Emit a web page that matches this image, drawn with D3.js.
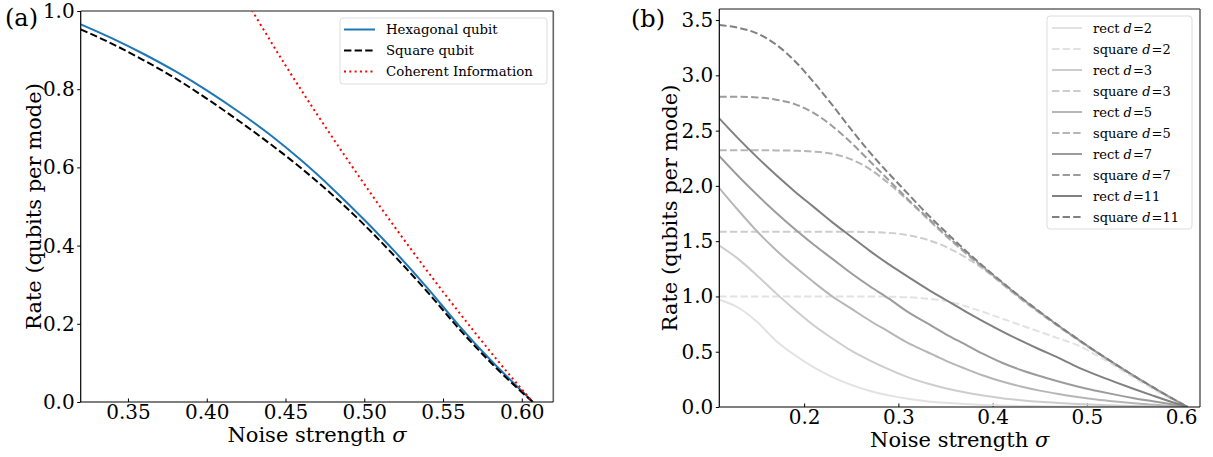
<!DOCTYPE html>
<html>
<head>
<meta charset="utf-8">
<script src="https://cdn.jsdelivr.net/npm/d3@7"></script>
<style>
  body { margin: 0; background: #fff; }
  svg { font-family: "DejaVu Serif", serif; }
</style>
</head>
<body>
<script>
// ---- panel (a) data ----
const sigmaA = [0.32, 0.34, 0.36, 0.38, 0.40, 0.42, 0.44, 0.46, 0.48, 0.50, 0.52, 0.54, 0.56, 0.58, 0.60, 0.607]
const hexRate = [0.966, 0.930, 0.890, 0.846, 0.797, 0.743, 0.684, 0.618, 0.545, 0.466, 0.382, 0.292, 0.196, 0.108, 0.028, 0.0]
const squareRate = [0.953, 0.916, 0.874, 0.828, 0.776, 0.720, 0.661, 0.598, 0.529, 0.453, 0.370, 0.282, 0.188, 0.102, 0.025, 0.0]
const sigmaCI = [0.42, 0.43, 0.45, 0.47, 0.49, 0.51, 0.53, 0.55, 0.57, 0.59, 0.607]
const ciRate = [1.060, 0.993, 0.861, 0.736, 0.616, 0.500, 0.389, 0.282, 0.179, 0.080, 0.0]
const xTicksA = [0.35, 0.40, 0.45, 0.50, 0.55, 0.60]
const yTicksA = [0.0, 0.2, 0.4, 0.6, 0.8, 1.0]

// ---- panel (b) data ----
const sigmaB = [0.11, 0.13, 0.15, 0.17, 0.19, 0.21, 0.23, 0.25, 0.27, 0.29, 0.31, 0.33, 0.35,
  0.37, 0.39, 0.41, 0.43, 0.45, 0.47, 0.49, 0.51, 0.53, 0.55, 0.57, 0.59, 0.607]
const rect2 = [0.97, 0.90, 0.77, 0.60, 0.47, 0.36, 0.27, 0.20, 0.145, 0.105, 0.075, 0.053, 0.038,
  0.027, 0.019, 0.014, 0.010, 0.007, 0.005, 0.004, 0.003, 0.002, 0.0015, 0.001, 0.0005, 0.0]
const square2 = [1.0, 1.0, 1.0, 1.0, 1.0, 1.0, 1.0, 1.0, 0.999, 0.998, 0.993, 0.98, 0.96,
  0.915, 0.86, 0.80, 0.74, 0.68, 0.62, 0.56, 0.47, 0.37, 0.265, 0.165, 0.07, 0.0]
const rect3 = [1.46, 1.34, 1.19, 1.03, 0.88, 0.74, 0.62, 0.51, 0.42, 0.34, 0.27, 0.215, 0.17,
  0.133, 0.103, 0.08, 0.062, 0.047, 0.036, 0.027, 0.02, 0.014, 0.009, 0.005, 0.002, 0.0]
const square3 = [1.585, 1.585, 1.585, 1.585, 1.585, 1.585, 1.585, 1.585, 1.583, 1.575, 1.555, 1.515, 1.45,
  1.36, 1.25, 1.12, 0.975, 0.85, 0.728, 0.61, 0.495, 0.386, 0.28, 0.178, 0.079, 0.0]
const rect5 = [1.98, 1.78, 1.59, 1.42, 1.27, 1.13, 1.00, 0.89, 0.78, 0.68, 0.58, 0.50, 0.42,
  0.35, 0.285, 0.23, 0.185, 0.148, 0.117, 0.09, 0.068, 0.05, 0.034, 0.021, 0.009, 0.0]
const square5 = [2.322, 2.322, 2.322, 2.321, 2.318, 2.31, 2.29, 2.24, 2.15, 2.02, 1.87, 1.71, 1.55,
  1.40, 1.255, 1.115, 0.98, 0.852, 0.729, 0.611, 0.496, 0.387, 0.281, 0.178, 0.08, 0.0]
const rect7 = [2.27, 2.09, 1.92, 1.76, 1.61, 1.47, 1.34, 1.21, 1.09, 0.98, 0.86, 0.76, 0.66,
  0.57, 0.48, 0.40, 0.335, 0.28, 0.23, 0.185, 0.147, 0.112, 0.08, 0.052, 0.024, 0.0]
const square7 = [2.807, 2.806, 2.80, 2.78, 2.74, 2.66, 2.54, 2.39, 2.22, 2.05, 1.88, 1.72, 1.56,
  1.41, 1.265, 1.125, 0.988, 0.858, 0.734, 0.615, 0.499, 0.388, 0.282, 0.179, 0.08, 0.0]
const rect11 = [2.61, 2.43, 2.26, 2.10, 1.95, 1.81, 1.67, 1.54, 1.41, 1.29, 1.18, 1.07, 0.97,
  0.87, 0.775, 0.685, 0.60, 0.52, 0.445, 0.36, 0.29, 0.225, 0.163, 0.103, 0.045, 0.0]
const square11 = [3.455, 3.43, 3.38, 3.28, 3.13, 2.94, 2.73, 2.51, 2.30, 2.11, 1.93, 1.75, 1.585,
  1.425, 1.274, 1.13, 0.992, 0.861, 0.736, 0.616, 0.5, 0.389, 0.282, 0.179, 0.08, 0.0]
const distances = [2, 3, 5, 7, 11]
const grays = ["#e2e2e2", "#cdcdcd", "#b6b6b6", "#9c9c9c", "#808080"]
const xTicksB = [0.2, 0.3, 0.4, 0.5, 0.6]
const yTicksB = [0.0, 0.5, 1.0, 1.5, 2.0, 2.5, 3.0, 3.5]

const width = 1213
const height = 457

const svg = d3.select("body")
  .append("svg")
  .attr("width", width)
  .attr("height", height)

// draws frame, ticks and labels for one panel, returns scales + group
const makePanel = (opt) => {
  const x = d3.scaleLinear().domain(opt.xDomain).range([opt.left, opt.right])
  const y = d3.scaleLinear().domain(opt.yDomain).range([opt.bottom, opt.top])

  const g = svg.append("g")

  g.append("clipPath")
    .attr("id", opt.id + "-clip")
    .append("rect")
    .attr("x", opt.left)
    .attr("y", opt.top)
    .attr("width", opt.right - opt.left)
    .attr("height", opt.bottom - opt.top)

  const xAxis = d3.axisBottom(x)
    .tickValues(opt.xTicks)
    .tickFormat(d3.format(opt.xFmt))
    .tickSizeInner(-3.5)
    .tickSizeOuter(0)
    .tickPadding(2.5)

  const yAxis = d3.axisLeft(y)
    .tickValues(opt.yTicks)
    .tickFormat(d3.format(".1f"))
    .tickSizeInner(3.5)
    .tickSizeOuter(0)
    .tickPadding(2.5)

  const gx = g.append("g")
    .attr("transform", `translate(0, ${opt.bottom})`)
    .call(xAxis)
  const gy = g.append("g")
    .attr("transform", `translate(${opt.left}, 0)`)
    .call(yAxis)

  ;[gx, gy].forEach(a => {
    a.select(".domain").remove()
    a.selectAll("text")
      .attr("fill", "#000")
      .style("font-size", "20px")
      .style("font-family", "DejaVu Serif")
    a.selectAll("line").attr("stroke", "#000").attr("stroke-width", 1)
  })

  const lines = g.append("g").attr("clip-path", `url(#${opt.id}-clip)`)

  // spines: top/right gray, left/bottom black
  g.append("line")
    .attr("x1", opt.left).attr("x2", opt.right)
    .attr("y1", opt.top).attr("y2", opt.top)
    .attr("stroke", "#666").attr("stroke-width", 1.6)
  g.append("line")
    .attr("x1", opt.right).attr("x2", opt.right)
    .attr("y1", opt.top).attr("y2", opt.bottom)
    .attr("stroke", "#666").attr("stroke-width", 1.6)
  g.append("line")
    .attr("x1", opt.left).attr("x2", opt.left)
    .attr("y1", opt.top).attr("y2", opt.bottom)
    .attr("stroke", "#000").attr("stroke-width", 1.2)
  g.append("line")
    .attr("x1", opt.left).attr("x2", opt.right)
    .attr("y1", opt.bottom).attr("y2", opt.bottom)
    .attr("stroke", "#000").attr("stroke-width", 1.2)

  // axis titles
  const xl = g.append("text")
    .attr("x", (opt.left + opt.right) / 2)
    .attr("y", opt.bottom + 40)
    .attr("text-anchor", "middle")
    .style("font-size", "21px")
  xl.append("tspan").text("Noise strength ")
  xl.append("tspan").style("font-style", "italic").text("σ")

  g.append("text")
    .attr("transform", `translate(${opt.yLabelX}, ${(opt.top + opt.bottom) / 2}) rotate(-90)`)
    .attr("text-anchor", "middle")
    .style("font-size", "21px")
    .text("Rate (qubits per mode)")

  g.append("text")
    .attr("x", opt.tagX)
    .attr("y", opt.tagY)
    .style("font-size", "24px")
    .text(opt.tag)

  return { x, y, g, lines }
}

const pA = makePanel({
  id: "a", left: 80.7, right: 553.3, top: 11, bottom: 402,
  xDomain: [0.32, 0.62], yDomain: [0, 1],
  xTicks: xTicksA, yTicks: yTicksA, xFmt: ".2f",
  yLabelX: 40.5, tag: "(a)", tagX: 5, tagY: 26
})

const pB = makePanel({
  id: "b", left: 719.3, right: 1200, top: 9, bottom: 407,
  xDomain: [0.11, 0.62], yDomain: [0, 3.6],
  xTicks: xTicksB, yTicks: yTicksB, xFmt: ".1f",
  yLabelX: 676.5, tag: "(b)", tagX: 631, tagY: 27
})

// ---- panel (a) curves ----
const lineA = d3.line()
  .x(d => pA.x(d[0]))
  .y(d => pA.y(d[1]))
  .curve(d3.curveMonotoneX)

const seriesA = [
  { name: "Hexagonal qubit", xs: sigmaA, ys: hexRate, color: "#1f77b4", dash: null },
  { name: "Square qubit", xs: sigmaA, ys: squareRate, color: "#000", dash: "7.4,3.2" },
  { name: "Coherent Information", xs: sigmaCI, ys: ciRate, color: "#ff0000", dash: "2,3.3" }
]

seriesA.forEach(s => {
  pA.lines.append("path")
    .datum(d3.zip(s.xs, s.ys))
    .attr("fill", "none")
    .attr("stroke", s.color)
    .attr("stroke-width", 2)
    .attr("stroke-dasharray", s.dash)
    .attr("d", lineA)
})

// legend (a)
const legA = svg.append("g").attr("transform", "translate(340, 18)")
legA.append("rect")
  .attr("width", 207).attr("height", 66).attr("rx", 3)
  .attr("fill", "#fff").attr("stroke", "#ddd")
seriesA.forEach((s, i) => {
  const ry = 11.5 + i * 21
  legA.append("line")
    .attr("x1", 4).attr("x2", 35).attr("y1", ry).attr("y2", ry)
    .attr("stroke", s.color).attr("stroke-width", 2)
    .attr("stroke-dasharray", s.dash)
  legA.append("text")
    .attr("x", 46).attr("y", ry).attr("dy", "0.35em")
    .style("font-size", "13.3px")
    .text(s.name)
})

// ---- panel (b) curves ----
const lineB = d3.line()
  .x(d => pB.x(d[0]))
  .y(d => pB.y(d[1]))
  .curve(d3.curveMonotoneX)

const rectSeries = [rect2, rect3, rect5, rect7, rect11]
const squareSeries = [square2, square3, square5, square7, square11]

const seriesB = []
distances.forEach((d, i) => {
  seriesB.push({ label: "rect", d: d, ys: rectSeries[i], color: grays[i], dash: null })
  seriesB.push({ label: "square", d: d, ys: squareSeries[i], color: grays[i], dash: "7.4,3.2" })
})

seriesB.forEach(s => {
  pB.lines.append("path")
    .datum(d3.zip(sigmaB, s.ys))
    .attr("fill", "none")
    .attr("stroke", s.color)
    .attr("stroke-width", 2)
    .attr("stroke-dasharray", s.dash)
    .attr("d", lineB)
})

// legend (b)
const legB = svg.append("g").attr("transform", "translate(1047, 16)")
legB.append("rect")
  .attr("width", 145).attr("height", 213).attr("rx", 3)
  .attr("fill", "#fff").attr("stroke", "#ddd")
seriesB.forEach((s, i) => {
  const ry = 12 + i * 21
  legB.append("line")
    .attr("x1", 5).attr("x2", 35).attr("y1", ry).attr("y2", ry)
    .attr("stroke", s.color).attr("stroke-width", 2)
    .attr("stroke-dasharray", s.dash)
  const t = legB.append("text")
    .attr("x", 46).attr("y", ry).attr("dy", "0.35em")
    .style("font-size", "13px")
  t.append("tspan").text(s.label + " ")
  t.append("tspan").style("font-style", "italic").text("d")
  t.append("tspan").attr("dx", 1).text("=" + s.d)
})
</script>
</body>
</html>
